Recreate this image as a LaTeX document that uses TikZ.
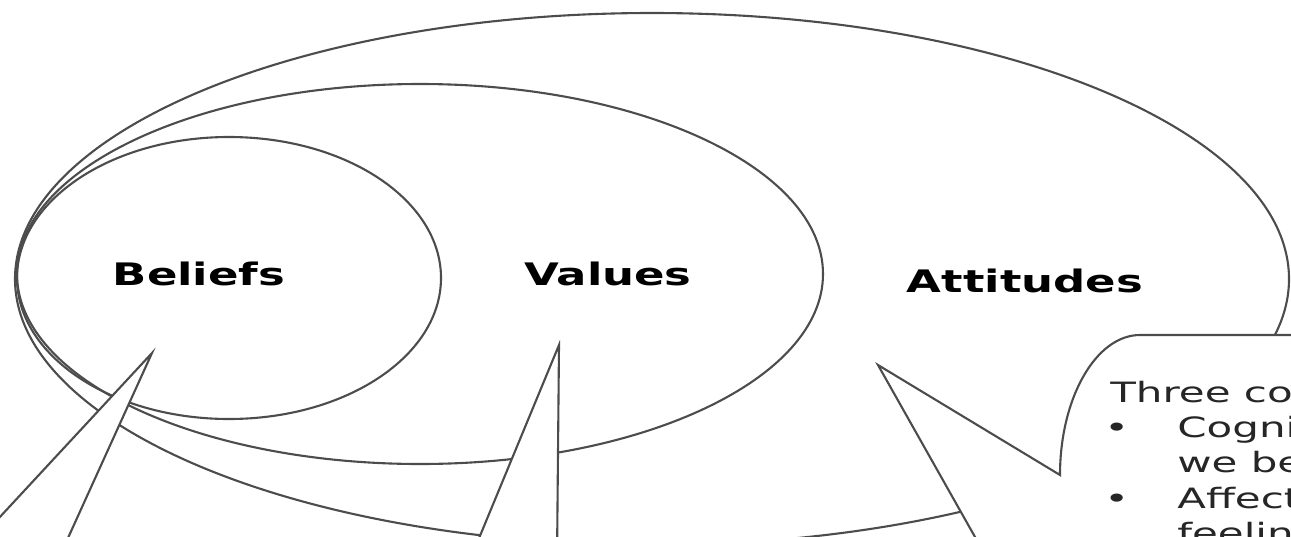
\documentclass[tikz,border=0pt]{standalone}
\usepackage{fontspec}
\setmainfont{DejaVu Sans}
\tikzset{
	ringline/.style={
			draw=black!70,
			line width=2.1pt
		},
	calloutshape/.style={
			ringline,
			fill=white,
			line join=miter
		},
	labelnode/.style={
			font=\fontsize{31}{31}\selectfont\bfseries,
			xscale=1.45,
			inner sep=0pt,
			anchor=base
		},
	bodytext/.style={
			font=\fontsize{28}{35}\selectfont,
			xscale=1.5,
			inner sep=0pt,
			anchor=base west,
			text=black!85
		}
}
\begin{document}
\begin{tikzpicture}[x=1pt, y=-1pt]
\useasboundingbox (0,0) rectangle (1291,536);
\clip (0,0) rectangle (1291,536);
% rings
\draw[ringline] (652,279) ellipse [x radius=637, y radius=266];
\draw[ringline] (420,274) ellipse [x radius=403, y radius=190];
\draw[ringline] (229,278) ellipse [x radius=212, y radius=141];

% callouts
\coordinate (btip) at (152,353);
\coordinate (vtip) at (559,345);
\coordinate (atip) at (878,365);
\filldraw[calloutshape] (-40,560) -- (btip) -- (58,560) -- cycle;
\filldraw[calloutshape] (470,560) -- (vtip) -- (557,560) -- cycle;
\filldraw[calloutshape] (988,560) -- (atip) -- (1060,475) .. controls (1060,398) and (1096,335) .. (1140,335) -- (1320,335) -- (1320,560) -- cycle;

\node[labelnode] (beliefs) at (199,285) {Beliefs};
\node[labelnode] (values) at (608,285) {Values};
\node[labelnode] (attitudes) at (1025,292) {Attitudes};

\node[bodytext] (l1) at (1110,402) {Three co};
\node[bodytext] (d1) at (1104,437) {\textbullet};
\node[bodytext] (l2) at (1177,437) {Cogni};
\node[bodytext] (l3) at (1177,472) {we be};
\node[bodytext] (d2) at (1104,508) {\textbullet};
\node[bodytext] (l4) at (1177,508) {Affect};
\node[bodytext] (l5) at (1177,543) {feelin};
\end{tikzpicture}
\end{document}
